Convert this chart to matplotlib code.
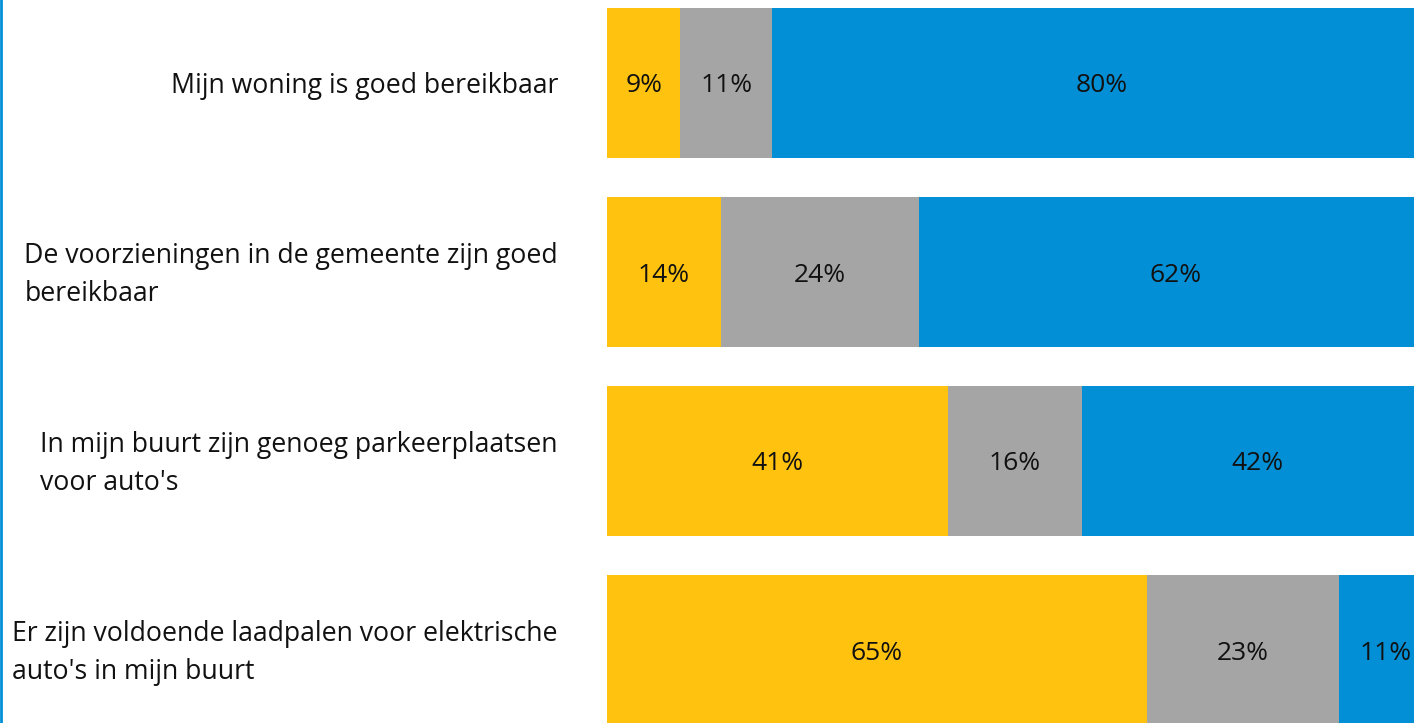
import matplotlib.pyplot as plt
from matplotlib.lines import Line2D

plt.rcParams['font.family'] = ['Open Sans', 'DejaVu Sans']

# Data
statements = ['Mijn woning is goed bereikbaar',
              'De voorzieningen in de gemeente zijn goed\nbereikbaar',
              "In mijn buurt zijn genoeg parkeerplaatsen\nvoor auto's",
              "Er zijn voldoende laadpalen voor elektrische\nauto's in mijn buurt"]
disagree = [8.9, 13.8, 41.3, 65.4]
neutral = [11.1, 24.0, 16.3, 23.3]
agree = [80.0, 62.2, 42.4, 11.3]

colors = ['#FFC20E', '#A5A5A5', '#038FD6']

W, H = 1414, 723
fig = plt.figure(figsize=(W / 100, H / 100), dpi=100)

# axes start at the left edge of the bars
left_px = 607
ax = fig.add_axes([left_px / W, 0, 1 - left_px / W, 1])

y = list(range(len(statements)))
series = [disagree, neutral, agree]
starts = [0.0] * len(statements)
for vals, col in zip(series, colors):
    ax.barh(y, vals, left=starts, height=150 / 189, color=col, linewidth=0)
    for i, (s, v) in enumerate(zip(starts, vals)):
        ax.annotate(f'{v:.0f}%', xy=(s + v / 2, i), xytext=(0, -3),
                    textcoords='offset pixels', ha='center', va='center',
                    fontsize=19, color='#111111', annotation_clip=False)
    starts = [s + v for s, v in zip(starts, vals)]

# 100% spans ~825 px, so the chart is cut off on the right
ax.set_xlim(0, (W - left_px) / 825 * 100)
ax.set_ylim(640 / 189, -83 / 189)
ax.axis('off')

# Statement labels left of the bars
for i, txt in enumerate(statements):
    ax.annotate(txt, xy=(0, i), xytext=(-49, -3), textcoords='offset pixels',
                ha='right', va='center', multialignment='left',
                fontsize=19.2, color='#111111', linespacing=1.5,
                annotation_clip=False)

# thin blue border at the left
fig.add_artist(Line2D([0.001, 0.001], [0, 1], color='#038FD6', lw=2,
                      transform=fig.transFigure))

plt.savefig('out.png', dpi=100)
